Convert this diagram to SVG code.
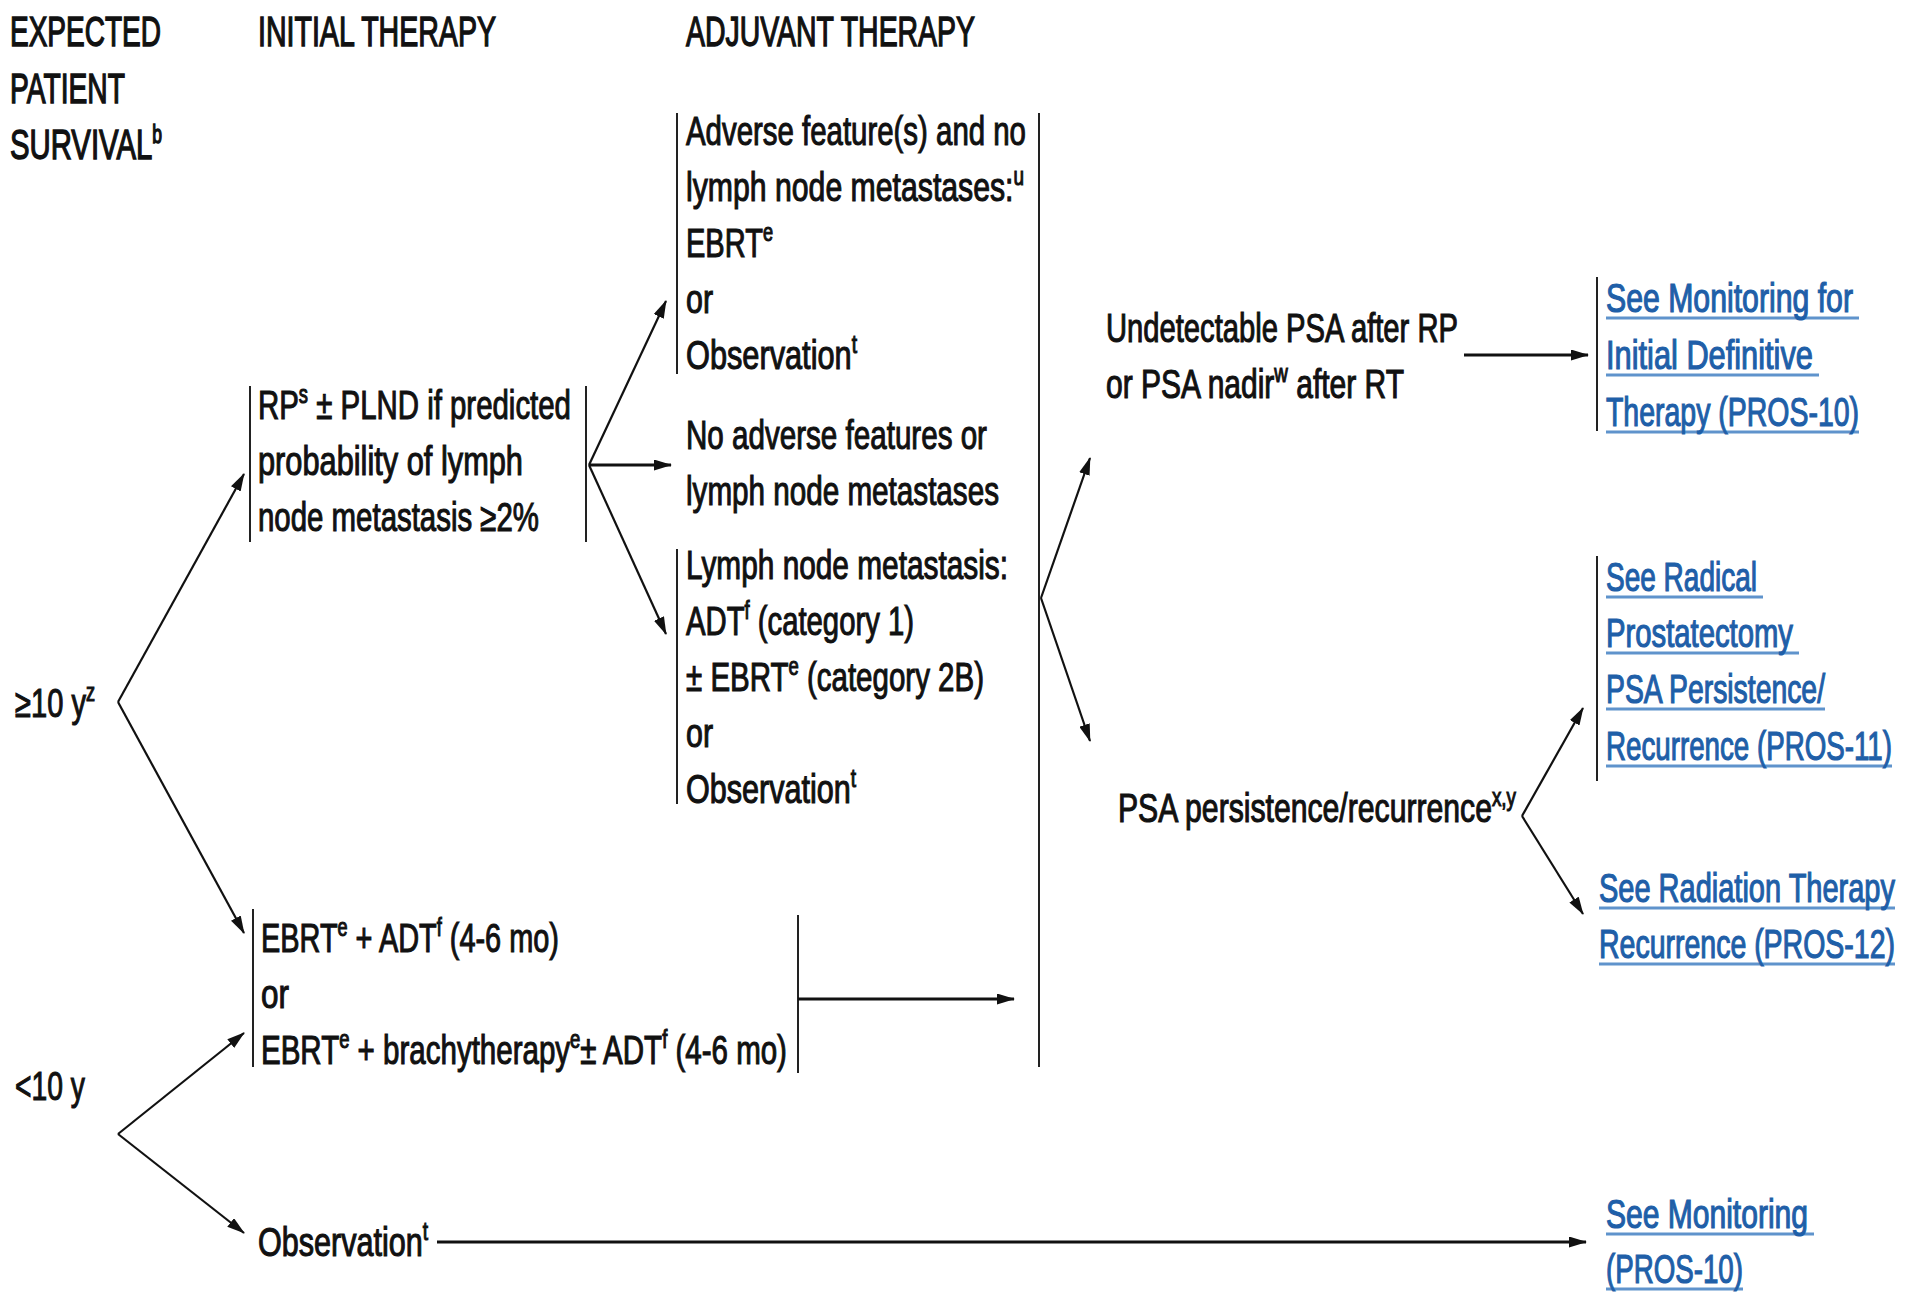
<svg xmlns="http://www.w3.org/2000/svg" width="1905" height="1292" viewBox="0 0 1905 1292">
<defs>
<style>
text{font-family:"Liberation Sans",Arial,sans-serif;fill:#111;stroke:#111;stroke-width:1.1;}
.h{font-size:42px;stroke-width:1.4;}
.b{font-size:40px;}
.l{font-size:40px;fill:#1f5fa8;stroke:#1f5fa8;stroke-width:1.2;}
.s{font-size:25px;}
.bar{stroke:#222;stroke-width:2;fill:none;}
.c{stroke:#111;stroke-width:2.2;fill:none;}
.ct{stroke:#111;stroke-width:3.2;fill:none;}
.ul{stroke:#5f93cc;stroke-width:3;}
</style>
<marker id="ah" viewBox="0 0 18 11" refX="17" refY="5.5" markerWidth="18" markerHeight="11" markerUnits="userSpaceOnUse" orient="auto"><path d="M0,0 L18,5.5 L0,11 z" fill="#111"/></marker>
</defs>
<rect width="1905" height="1292" fill="#fff"/>

<g id="headers">
<g transform="scale(0.65 1)">
<text class="h" x="15.38" y="46" textLength="232.3" lengthAdjust="spacingAndGlyphs">EXPECTED</text>
<text class="h" x="15.38" y="103" textLength="176.9" lengthAdjust="spacingAndGlyphs">PATIENT</text>
<text class="h" x="15.38" y="159" textLength="233.8" lengthAdjust="spacingAndGlyphs">SURVIVAL<tspan class="s" dy="-16">b</tspan></text>
<text class="h" x="396.92" y="46" textLength="366.2" lengthAdjust="spacingAndGlyphs">INITIAL THERAPY</text>
<text class="h" x="1055.38" y="46" textLength="444.6" lengthAdjust="spacingAndGlyphs">ADJUVANT THERAPY</text>
</g>
</g>

<g id="node-ge10">
<g transform="scale(0.75 1)">
<text class="b" x="20" y="717" textLength="106.7" lengthAdjust="spacingAndGlyphs">≥10 y<tspan class="s" dy="-16">z</tspan></text>
</g>
</g>
<g id="node-lt10">
<g transform="scale(0.75 1)">
<text class="b" x="20" y="1100" textLength="93.3" lengthAdjust="spacingAndGlyphs">&lt;10 y</text>
</g>
</g>

<g id="node-rp">
<line class="bar" x1="250" y1="386" x2="250" y2="542"/>
<line class="bar" x1="586" y1="386" x2="586" y2="542"/>
<g transform="scale(0.75 1)">
<text class="b" x="344" y="419" textLength="417.3" lengthAdjust="spacingAndGlyphs">RP<tspan class="s" dy="-16">s</tspan><tspan dy="16"> ± PLND if predicted</tspan></text>
<text class="b" x="344" y="475" textLength="353.3" lengthAdjust="spacingAndGlyphs">probability of lymph</text>
<text class="b" x="344" y="531" textLength="374.7" lengthAdjust="spacingAndGlyphs">node metastasis ≥2%</text>
</g>
</g>

<g id="node-ebrt">
<line class="bar" x1="253" y1="909" x2="253" y2="1067"/>
<line class="bar" x1="798" y1="915" x2="798" y2="1073"/>
<g transform="scale(0.75 1)">
<text class="b" x="348" y="952" textLength="397.3" lengthAdjust="spacingAndGlyphs">EBRT<tspan class="s" dy="-16">e</tspan><tspan dy="16"> + ADT</tspan><tspan class="s" dy="-16">f</tspan><tspan dy="16"> (4-6 mo)</tspan></text>
<text class="b" x="348" y="1008" textLength="37.3" lengthAdjust="spacingAndGlyphs">or</text>
<text class="b" x="348" y="1064" textLength="701.3" lengthAdjust="spacingAndGlyphs">EBRT<tspan class="s" dy="-16">e</tspan><tspan dy="16"> + brachytherapy</tspan><tspan class="s" dy="-16">e</tspan><tspan dy="16">± ADT</tspan><tspan class="s" dy="-16">f</tspan><tspan dy="16"> (4-6 mo)</tspan></text>
</g>
</g>

<g id="node-obs">
<g transform="scale(0.75 1)">
<text class="b" x="344" y="1256" textLength="226.7" lengthAdjust="spacingAndGlyphs">Observation<tspan class="s" dy="-16">t</tspan></text>
</g>
</g>

<g id="node-adverse">
<line class="bar" x1="677" y1="113" x2="677" y2="374"/>
<g transform="scale(0.75 1)">
<text class="b" x="914.67" y="145" textLength="453.3" lengthAdjust="spacingAndGlyphs">Adverse feature(s) and no</text>
<text class="b" x="914.67" y="201" textLength="450.7" lengthAdjust="spacingAndGlyphs">lymph node metastases:<tspan class="s" dy="-16">u</tspan></text>
<text class="b" x="914.67" y="257" textLength="116" lengthAdjust="spacingAndGlyphs">EBRT<tspan class="s" dy="-16">e</tspan></text>
<text class="b" x="914.67" y="313" textLength="36" lengthAdjust="spacingAndGlyphs">or</text>
<text class="b" x="914.67" y="369" textLength="228" lengthAdjust="spacingAndGlyphs">Observation<tspan class="s" dy="-16">t</tspan></text>
</g>
</g>

<g id="node-noadverse">
<g transform="scale(0.75 1)">
<text class="b" x="914.67" y="449" textLength="401.3" lengthAdjust="spacingAndGlyphs">No adverse features or</text>
<text class="b" x="914.67" y="505" textLength="417.3" lengthAdjust="spacingAndGlyphs">lymph node metastases</text>
</g>
</g>

<g id="node-lymph">
<line class="bar" x1="677" y1="549" x2="677" y2="804"/>
<g transform="scale(0.75 1)">
<text class="b" x="914.67" y="579" textLength="429.3" lengthAdjust="spacingAndGlyphs">Lymph node metastasis:</text>
<text class="b" x="914.67" y="635" textLength="304" lengthAdjust="spacingAndGlyphs">ADT<tspan class="s" dy="-16">f</tspan><tspan dy="16"> (category 1)</tspan></text>
<text class="b" x="914.67" y="691" textLength="397.3" lengthAdjust="spacingAndGlyphs">± EBRT<tspan class="s" dy="-16">e</tspan><tspan dy="16"> (category 2B)</tspan></text>
<text class="b" x="914.67" y="747" textLength="36" lengthAdjust="spacingAndGlyphs">or</text>
<text class="b" x="914.67" y="803" textLength="226.7" lengthAdjust="spacingAndGlyphs">Observation<tspan class="s" dy="-16">t</tspan></text>
</g>
</g>

<g id="node-undetectable">
<g transform="scale(0.75 1)">
<text class="b" x="1474.67" y="342" textLength="469.3" lengthAdjust="spacingAndGlyphs">Undetectable PSA after RP</text>
<text class="b" x="1474.67" y="398" textLength="397.3" lengthAdjust="spacingAndGlyphs">or PSA nadir<tspan class="s" dy="-16">w</tspan><tspan dy="16"> after RT</tspan></text>
</g>
</g>

<g id="node-persistence">
<g transform="scale(0.75 1)">
<text class="b" x="1490.67" y="822" textLength="530.7" lengthAdjust="spacingAndGlyphs">PSA persistence/recurrence<tspan class="s" dy="-16">x,y</tspan></text>
</g>
</g>

<g id="link-pros10a">
<line class="bar" x1="1597" y1="277" x2="1597" y2="431"/>
<line class="ul" x1="1606" y1="318" x2="1859" y2="318"/>
<line class="ul" x1="1606" y1="375" x2="1819" y2="375"/>
<line class="ul" x1="1606" y1="432" x2="1859" y2="432"/>
<g transform="scale(0.68 1)">
<text class="l" x="2361.76" y="312" textLength="363.2" lengthAdjust="spacingAndGlyphs">See Monitoring for</text>
<text class="l" x="2361.76" y="369" textLength="304.4" lengthAdjust="spacingAndGlyphs">Initial Definitive</text>
<text class="l" x="2361.76" y="426" textLength="372.1" lengthAdjust="spacingAndGlyphs">Therapy (PROS-10)</text>
</g>
</g>

<g id="link-pros11">
<line class="bar" x1="1597" y1="556" x2="1597" y2="781"/>
<line class="ul" x1="1606" y1="597" x2="1763" y2="597"/>
<line class="ul" x1="1606" y1="653" x2="1799" y2="653"/>
<line class="ul" x1="1606" y1="709" x2="1825" y2="709"/>
<line class="ul" x1="1606" y1="766" x2="1892" y2="766"/>
<g transform="scale(0.68 1)">
<text class="l" x="2361.76" y="591" textLength="222.1" lengthAdjust="spacingAndGlyphs">See Radical</text>
<text class="l" x="2361.76" y="647" textLength="275" lengthAdjust="spacingAndGlyphs">Prostatectomy</text>
<text class="l" x="2361.76" y="703" textLength="322.1" lengthAdjust="spacingAndGlyphs">PSA Persistence/</text>
<text class="l" x="2361.76" y="760" textLength="420.6" lengthAdjust="spacingAndGlyphs">Recurrence (PROS-11)</text>
</g>
</g>

<g id="link-pros12">
<line class="ul" x1="1599" y1="908" x2="1895" y2="908"/>
<line class="ul" x1="1599" y1="964" x2="1895" y2="964"/>
<g transform="scale(0.68 1)">
<text class="l" x="2351.47" y="902" textLength="435.3" lengthAdjust="spacingAndGlyphs">See Radiation Therapy</text>
<text class="l" x="2351.47" y="958" textLength="435.3" lengthAdjust="spacingAndGlyphs">Recurrence (PROS-12)</text>
</g>
</g>

<g id="link-pros10b">
<line class="ul" x1="1606" y1="1234" x2="1814" y2="1234"/>
<line class="ul" x1="1606" y1="1289" x2="1743" y2="1289"/>
<g transform="scale(0.68 1)">
<text class="l" x="2361.76" y="1228" textLength="297.1" lengthAdjust="spacingAndGlyphs">See Monitoring</text>
<text class="l" x="2361.76" y="1283" textLength="201.5" lengthAdjust="spacingAndGlyphs">(PROS-10)</text>
</g>
</g>

<g id="connectors">
<line class="c" x1="118" y1="702" x2="244" y2="474" marker-end="url(#ah)"/>
<line class="c" x1="118" y1="702" x2="244" y2="933" marker-end="url(#ah)"/>
<line class="c" x1="118" y1="1134" x2="244" y2="1033" marker-end="url(#ah)"/>
<line class="c" x1="118" y1="1134" x2="244" y2="1233" marker-end="url(#ah)"/>
<line class="c" x1="589" y1="465" x2="666" y2="301" marker-end="url(#ah)"/>
<line class="ct" x1="589" y1="465" x2="671" y2="465" marker-end="url(#ah)"/>
<line class="c" x1="589" y1="465" x2="666" y2="634" marker-end="url(#ah)"/>
<line class="bar" x1="1039" y1="113" x2="1039" y2="1067"/>
<line class="ct" x1="798" y1="999" x2="1014" y2="999" marker-end="url(#ah)"/>
<line class="c" x1="1041" y1="598" x2="1090" y2="458" marker-end="url(#ah)"/>
<line class="c" x1="1041" y1="598" x2="1090" y2="741" marker-end="url(#ah)"/>
<line class="ct" x1="1464" y1="355" x2="1588" y2="355" marker-end="url(#ah)"/>
<line class="c" x1="1522" y1="816" x2="1583" y2="708" marker-end="url(#ah)"/>
<line class="c" x1="1522" y1="816" x2="1583" y2="914" marker-end="url(#ah)"/>
<line class="ct" x1="437" y1="1242" x2="1586" y2="1242" marker-end="url(#ah)"/>
</g>
</svg>
